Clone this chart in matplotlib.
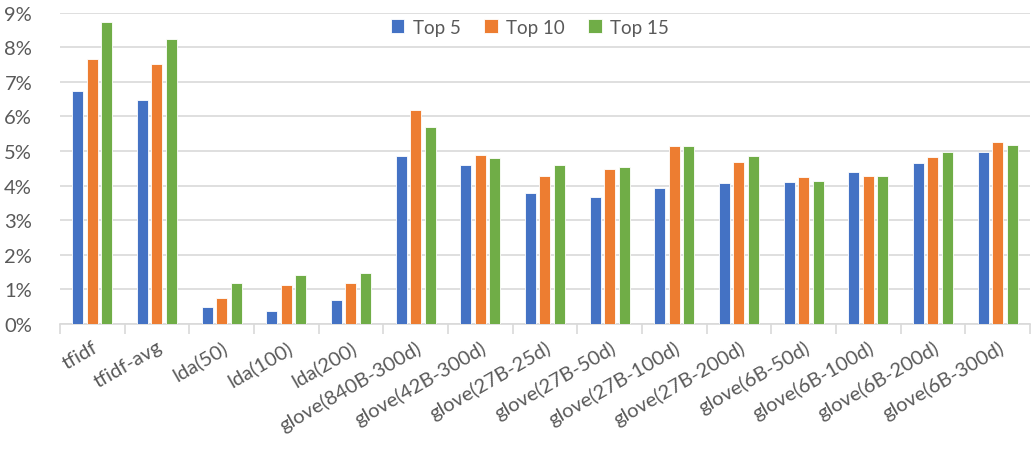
import numpy as np
import matplotlib.pyplot as plt
from matplotlib.ticker import PercentFormatter, FixedLocator

methods = ['tfidf', 'tfidf-avg', 'lda(50)', 'lda(100)', 'lda(200)',
           'glove(840B-300d)', 'glove(42B-300d)', 'glove(27B-25d)',
           'glove(27B-50d)', 'glove(27B-100d)', 'glove(27B-200d)',
           'glove(6B-50d)', 'glove(6B-100d)', 'glove(6B-200d)', 'glove(6B-300d)']

top5 = [6.73, 6.47, 0.48, 0.38, 0.69, 4.85, 4.60, 3.78, 3.68, 3.93, 4.08, 4.10, 4.39, 4.65, 4.96]
top10 = [7.66, 7.50, 0.74, 1.12, 1.18, 6.18, 4.89, 4.28, 4.48, 5.14, 4.69, 4.26, 4.27, 4.82, 5.25]
top15 = [8.74, 8.25, 1.18, 1.41, 1.47, 5.68, 4.81, 4.59, 4.53, 5.14, 4.86, 4.13, 4.28, 4.96, 5.17]

series = [('Top 5', top5, '#4472C4'),
          ('Top 10', top10, '#ED7D31'),
          ('Top 15', top15, '#70AD47')]

plt.rcParams['font.family'] = ['Lato', 'DejaVu Sans']
txt = '#595959'
grid = '#d9d9d9'

fig = plt.figure(figsize=(10.33, 4.52), dpi=100)
ax = fig.add_axes([0.058, 0.281, 0.939, 0.689])

x = np.arange(len(methods))
w = 0.17
step = 0.225
for i, (name, vals, col) in enumerate(series):
    ax.bar(x + (i - 1) * step, vals, w, color=col, edgecolor='white',
           linewidth=0.6, label=name, zorder=3)

ax.set_xlim(-0.5, len(methods) - 0.5)
ax.set_ylim(0, 9)
ax.set_yticks(np.arange(0, 10, 1))
ax.yaxis.set_major_formatter(PercentFormatter(decimals=0))
ax.grid(axis='y', color=grid, linewidth=1.2, zorder=0)

for s in ['top', 'right', 'left']:
    ax.spines[s].set_visible(False)
ax.spines['bottom'].set_color(grid)
ax.spines['bottom'].set_linewidth(1.2)

ax.set_xticks(x)
ax.set_xticklabels(methods, rotation=30, ha='right', va='top',
                   rotation_mode='anchor', fontsize=14.5, color=txt)
ax.tick_params(axis='x', which='major', length=0, pad=10)
ax.xaxis.set_minor_locator(FixedLocator(np.arange(-0.5, len(methods), 1)))
ax.tick_params(axis='x', which='minor', length=7, color=grid, width=1.2)
ax.tick_params(axis='y', length=0, pad=20, labelsize=14.5, labelcolor=txt)

ax.legend(loc='center', bbox_to_anchor=(0.513, 0.938),
          bbox_transform=fig.transFigure, ncol=3, frameon=False,
          fontsize=13.5, labelcolor=txt, handlelength=0.72, handleheight=0.72,
          handletextpad=0.45, columnspacing=1.25)

plt.savefig('out.png', dpi=100)
